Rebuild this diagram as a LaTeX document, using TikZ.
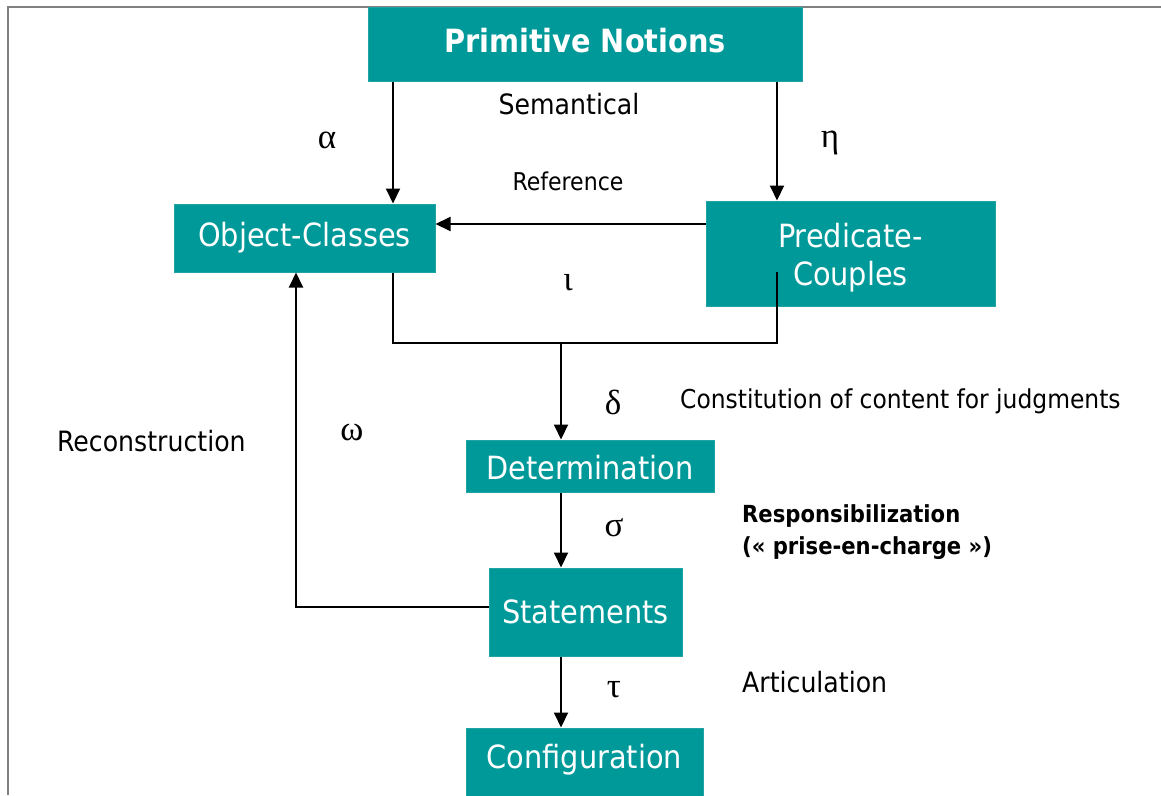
\documentclass[tikz,border=0pt]{standalone}
\usepackage{fontspec}
\setmainfont{DejaVu Sans Condensed}
\newfontfamily\greekfont{Liberation Serif}
\usetikzlibrary{arrows.meta}
\definecolor{tealbox}{HTML}{009999}
\definecolor{tealedge}{HTML}{1FA3A3}
\definecolor{framegray}{HTML}{808080}
% shift box text vertically without changing its declared size
\newcommand{\nudge}[2]{\raisebox{#1}[\height][\depth]{#2}}
\begin{document}
\begin{tikzpicture}[x=1pt,y=-1pt,
  box/.style={fill=tealbox, draw=tealedge, line width=1pt, text=white,
    inner sep=0pt, align=center, font=\fontsize{32}{38}\selectfont},
  arr/.style={line width=2pt, -{Triangle[length=15pt,width=14pt]}},
  ln/.style={line width=2pt},
  gk/.style={font=\greekfont\fontsize{35}{38}\selectfont, inner sep=0pt},
  lbl/.style={font=\fontsize{28}{32}\selectfont, anchor=west, inner sep=0pt},
  blbl/.style={font=\bfseries\fontsize{23.5}{32}\selectfont, anchor=west,
    inner sep=0pt, align=left}]
  \useasboundingbox (0,0) rectangle (1161,795);

  % page frame
  \draw[framegray, line width=2pt] (8,795) -- (8,7) -- (1161,7);

  % boxes
  \node[box, minimum width=434pt, minimum height=74pt, font=\bfseries\fontsize{32}{38}\selectfont]
    (pn) at (585,44) {\nudge{3pt}{Primitive Notions}};
  \node[box, minimum width=261pt, minimum height=68pt] (oc) at (304.5,238) {Object-Classes};
  \node[box, minimum width=289pt, minimum height=105pt] (pc) at (850.5,253.5)
    {\nudge{-5pt}{\begin{tabular}{@{}c@{}}Predicate-\\Couples\end{tabular}}};
  \node[box, minimum width=248pt, minimum height=52pt] (det) at (590,466) {\nudge{-2pt}{Determination}};
  \node[box, minimum width=193pt, minimum height=88pt] (st) at (585.5,612) {Statements};
  \node[box, minimum width=237pt, minimum height=68pt] (cf) at (584.5,762) {\nudge{2pt}{Configuration}};

  % helper points
  \coordinate (ax) at (393,0);
  \coordinate (ex) at (777,0);
  \coordinate (dx) at (561,0);
  \coordinate (wx) at (296,0);
  \coordinate (pcout) at (777,272);
  \coordinate (join) at (561,343);

  % connectors
  \draw[arr] (pn.south -| ax) -- (oc.north -| ax);
  \draw[arr] (pn.south -| ex) -- (pc.north -| ex);
  \draw[arr] (pc.west |- 0,224) -- (oc.east |- 0,224);
  \draw[ln] (oc.south -| ax) -- (ax |- join) -- (ex |- join) -- (pcout);
  \draw[arr] (join) -- (det.north -| dx);
  \draw[arr] (det.south -| dx) -- (st.north -| dx);
  \draw[arr] (st.south -| dx) -- (cf.north -| dx);
  \draw[arr] ([yshift=5pt]st.west) -| (oc.south -| wx);

  % greek labels
  \node[gk] (alpha) at (327,140) {α};
  \node[gk] (eta) at (830,143) {η};
  \node[gk] (iota) at (568,283) {ι};
  \node[gk] (delta) at (613,402) {δ};
  \node[gk] (omega) at (352,432) {ω};
  \node[gk] (sigma) at (614,528) {σ};
  \node[gk] (tau) at (614,690) {τ};

  % text labels
  \node[lbl, anchor=center] (sem) at (569,104) {Semantical};
  \node[lbl, anchor=center, font=\fontsize{24.5}{28}\selectfont] (ref) at (568,181) {Reference};
  \node[lbl, font=\fontsize{26}{30}\selectfont] (cons) at (680,401) {Constitution of content for judgments};
  \node[lbl] (recon) at (57,441) {Reconstruction};
  \node[blbl] (resp) at (742,532) {Responsibilization\\(« prise-en-charge »)};
  \node[lbl] (artic) at (742,682) {Articulation};
\end{tikzpicture}
\end{document}
